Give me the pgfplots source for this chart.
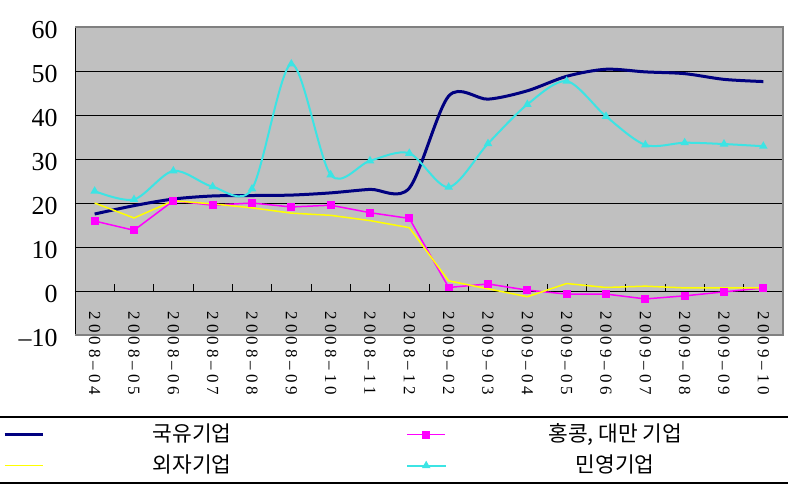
\documentclass[border=0pt]{standalone}
\usepackage{fontspec}
\usepackage{pgfplots}
\pgfplotsset{compat=1.18}
\setmainfont{Liberation Serif}
\newfontfamily\kr{Noto Sans CJK KR}
\newfontfamily\xtf[LetterSpace=24]{Liberation Serif}
\definecolor{bg}{RGB}{192,192,192}
\definecolor{bord}{RGB}{128,128,128}
\definecolor{cnavy}{RGB}{0,0,128}
\definecolor{cyel}{RGB}{255,255,0}
\definecolor{cmag}{RGB}{255,0,255}
\definecolor{ccyan}{RGB}{60,228,228}
\begin{document}
\begin{tikzpicture}
\useasboundingbox (-75bp,-153bp) rectangle (713bp,335bp);
\begin{axis}[
  at={(0,0)}, anchor=south west,
  scale only axis, width=708bp, height=308bp,
  xmin=-0.5, xmax=17.5, ymin=-10, ymax=60,
  axis background/.style={fill=bg},
  axis x line*=middle, axis y line*=left,
  axis line style={black, line width=0.8bp},
  xtick={0,...,17},
  xticklabels={2008\textendash04,2008\textendash05,2008\textendash06,2008\textendash07,2008\textendash08,2008\textendash09,2008\textendash10,2008\textendash11,2008\textendash12,2009\textendash02,2009\textendash03,2009\textendash04,2009\textendash05,2009\textendash06,2009\textendash07,2009\textendash08,2009\textendash09,2009\textendash10},
  minor xtick={0.5,1.5,...,16.5},
  major tick length=0pt,
  minor tick length=7bp,
  tick align=center,
  minor x tick style={black, line width=0.8bp, yshift=3.5bp},
  ytick={-10,0,10,20,30,40,50,60},
  yticklabels={\textendash10,0,10,20,30,40,50,60},
  ymajorgrids,
  major grid style={black, line width=0.8bp},
  yticklabel style={font=\fontsize{26}{26}\selectfont, xshift=-14bp, yshift=-3bp},
  xticklabel style={font=\xtf\fontsize{17}{17}\selectfont, yshift=-17bp, rotate=-90, anchor=west},
  legend columns=2,
  legend style={at={(-0.1017,-0.2857)}, anchor=north west, draw=none, fill=none,
    inner sep=0pt, row sep=8bp, column sep=0pt,
    nodes={inner sep=0pt, text height=18bp, text depth=5bp},
    font=\kr\fontsize{21.5}{24}\selectfont},
  legend image code/.code={\draw[mark repeat=2,mark phase=2,#1] plot coordinates {(0bp,0bp) (19bp,0bp) (38bp,0bp)};},
]
\addplot[cnavy, line width=3bp, smooth] coordinates {
(0,17.5) (1,19.4) (2,20.9) (3,21.6) (4,21.7) (5,21.8) (6,22.3) (7,23.1) (8,23.4)
(9,44.3) (10,43.6) (11,45.5) (12,48.8) (13,50.4) (14,49.8) (15,49.4) (16,48.1) (17,47.6)};
\addlegendentry{\makebox[362bp][l]{\makebox[296bp]{국유기업}}}
\addplot[cmag, line width=1.5bp, mark=square*, mark size=3.2bp, mark options={solid}] coordinates {
(0,15.9) (1,13.8) (2,20.5) (3,19.5) (4,20.0) (5,19.1) (6,19.5) (7,17.8) (8,16.5)
(9,0.8) (10,1.6) (11,0.2) (12,-0.7) (13,-0.7) (14,-1.8) (15,-1.1) (16,-0.2) (17,0.7)};
\addlegendentry{\makebox[338bp]{홍콩, 대만 기업}}
\addplot[cyel, line width=1.5bp] coordinates {
(0,20.0) (1,16.6) (2,20.5) (3,19.8) (4,18.9) (5,17.7) (6,17.2) (7,16.0) (8,14.4)
(9,2.3) (10,0.5) (11,-1.3) (12,1.7) (13,0.8) (14,1.1) (15,0.7) (16,0.7) (17,0.7)};
\addlegendentry{\makebox[362bp][l]{\makebox[296bp]{외자기업}}}
\addplot[ccyan, line width=2bp, smooth, mark=triangle*, mark size=3bp, mark options={solid}] coordinates {
(0,22.7) (1,20.8) (2,27.3) (3,23.7) (4,23.2) (5,51.6) (6,26.4) (7,29.6) (8,31.3)
(9,23.6) (10,33.5) (11,42.4) (12,47.7) (13,39.7) (14,33.2) (15,33.7) (16,33.4) (17,32.9)};
\addlegendentry{\makebox[338bp]{민영기업}}
\end{axis}
\draw[bord, line width=1.2bp] (0bp,0bp) -- (708bp,0bp) -- (708bp,308bp) -- (0bp,308bp);
\draw[black, line width=1.2bp] (-75bp,-82bp) -- (713bp,-82bp);
\draw[black, line width=1.2bp] (-75bp,-148bp) -- (713bp,-148bp);
\end{tikzpicture}
\end{document}
